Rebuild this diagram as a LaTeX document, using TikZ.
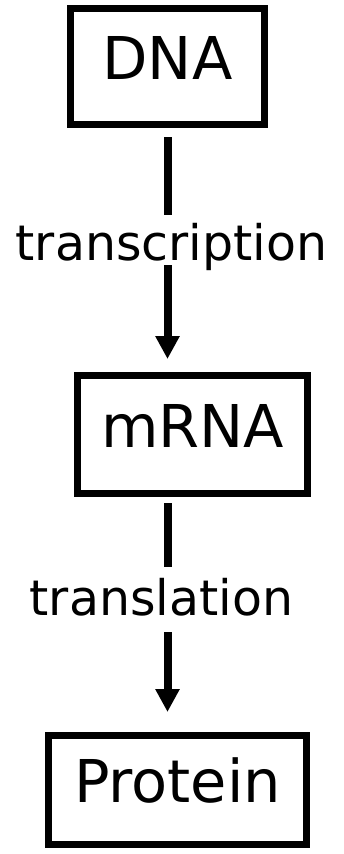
\documentclass[tikz,border=0pt]{standalone}
\usepackage{fontspec}
\setmainfont{DejaVu Sans}
\usetikzlibrary{arrows.meta,positioning}

\tikzset{
	stagebox/.style={draw, line width=7pt, inner sep=0pt,
		font=\fontsize{59}{59}\selectfont, text height=44pt, text depth=19pt},
	steplabel/.style={fill=white, inner sep=0pt, anchor=base,
		font=\fontsize{49}{49}\selectfont},
	flow/.style={line width=8pt, -{Triangle[width=23pt,length=23pt]}}
}

\begin{document}
\begin{tikzpicture}[x=1pt,y=-1pt]
			\useasboundingbox (0,0) rectangle (344,854);
			% boxes
			\node[stagebox, minimum width=194pt, minimum height=116pt] (dna) at (167.5,66.5) {DNA};
			\node[stagebox, minimum width=230pt, minimum height=118pt] (mrna) at (192.5,434.5) {mRNA};
			\node[stagebox, minimum width=258pt, minimum height=109pt] (protein) at (177.5,790) {Protein};
			% arrows
			\draw[flow, shorten <=9pt, shorten >=13pt] (dna.south) -- (dna.south |- mrna.north);
			\draw[flow, shorten <=6pt, shorten >=20pt] (dna.south |- mrna.south) -- (dna.south |- protein.north);
			% labels
			\node[steplabel, text height=45pt, text depth=5pt] (transcription) at (171.5,260) {transcription};
			\node[steplabel, text height=48pt, text depth=17pt] (translation) at (161.5,615) {translation};
		\end{tikzpicture}
\end{document}
